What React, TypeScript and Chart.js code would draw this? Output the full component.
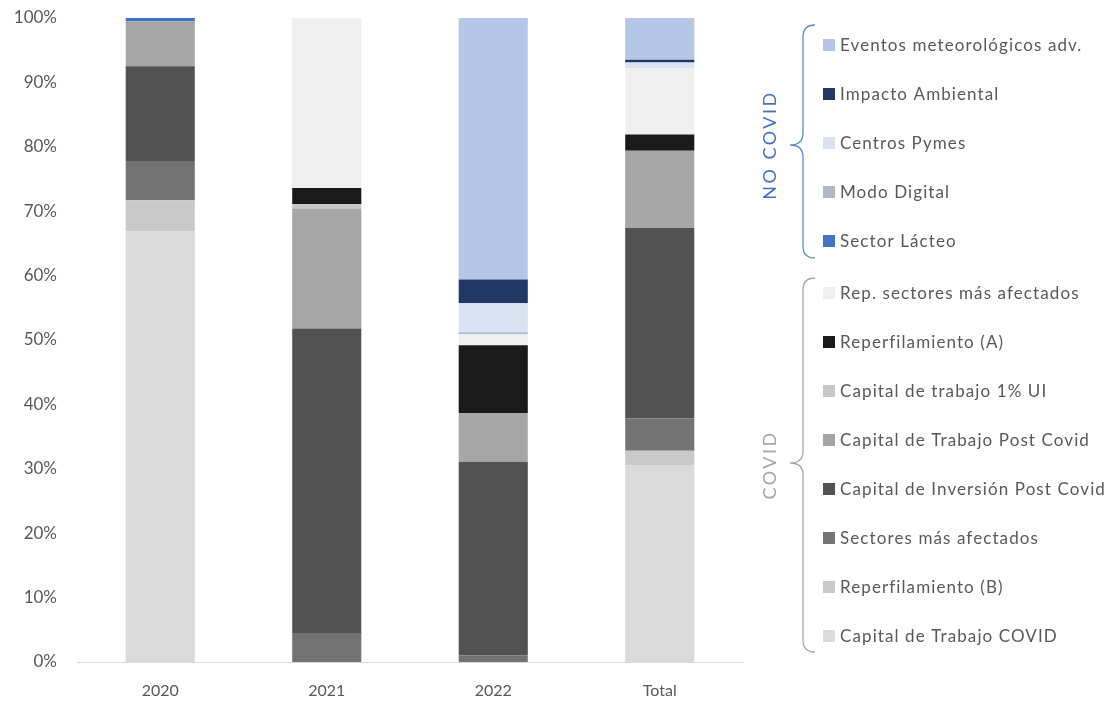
import React, { useEffect, useRef } from "react";
import { Chart, registerables } from "chart.js";

Chart.register(...registerables);

const categories = ["2020", "2021", "2022", "Total"];

// Series, stacked bottom to top (values in % of each bar)
const capitalTrabajoCovid = [66.9, 0, 0, 30.6];
const reperfilamientoB = [4.8, 0, 0, 2.2];
const sectoresMasAfectados = [6.1, 4.5, 1.0, 5.0];
const capitalInversionPost = [14.7, 47.3, 30.1, 29.6];
const capitalTrabajoPost = [7.0, 18.6, 7.55, 12.0];
const capitalTrabajo1UI = [0, 0.7, 0, 0];
const reperfilamientoA = [0, 2.5, 10.55, 2.5];
const repSectores = [0, 26.4, 1.7, 10.3];
const sectorLacteo = [0.5, 0, 0, 0];
const modoDigital = [0, 0, 0.3, 0];
const centrosPymes = [0, 0, 4.5, 0.9];
const impactoAmbiental = [0, 0, 3.7, 0.4];
const eventosMeteo = [0, 0, 40.6, 6.5];

const covidNames = [
  "Capital de Trabajo COVID",
  "Reperfilamiento (B)",
  "Sectores más afectados",
  "Capital de Inversión Post Covid",
  "Capital de Trabajo Post Covid",
  "Capital de trabajo 1% UI",
  "Reperfilamiento (A)",
  "Rep. sectores más afectados",
];
const noCovidNames = [
  "Sector Lácteo",
  "Modo Digital",
  "Centros Pymes",
  "Impacto Ambiental",
  "Eventos meteorológicos adv.",
];
const groupLabels = ["NO COVID", "COVID"];

const seriesValues = [
  capitalTrabajoCovid,
  reperfilamientoB,
  sectoresMasAfectados,
  capitalInversionPost,
  capitalTrabajoPost,
  capitalTrabajo1UI,
  reperfilamientoA,
  repSectores,
  sectorLacteo,
  modoDigital,
  centrosPymes,
  impactoAmbiental,
  eventosMeteo,
];
const seriesNames = [...covidNames, ...noCovidNames];
const seriesColors = [
  "#dadada",
  "#c9c9c9",
  "#737373",
  "#525252",
  "#a6a6a6",
  "#c8c8c8",
  "#1a1a1a",
  "#efefef",
  "#4472c4",
  "#adb9ca",
  "#dae3f3",
  "#1f3864",
  "#b4c7e7",
];

const FONT = "Lato, 'Open Sans', sans-serif";
const TEXT = "#595959";

function drawBrace(ctx: CanvasRenderingContext2D, x: number, top: number, bottom: number, tip: number, color: string) {
  const r = 12;
  const xl = x - 13;
  ctx.save();
  ctx.strokeStyle = color;
  ctx.lineWidth = 1.3;
  ctx.beginPath();
  ctx.moveTo(x + r, top);
  ctx.quadraticCurveTo(x, top, x, top + r);
  ctx.lineTo(x, tip - r);
  ctx.quadraticCurveTo(x, tip, xl, tip);
  ctx.quadraticCurveTo(x, tip, x, tip + r);
  ctx.lineTo(x, bottom - r);
  ctx.quadraticCurveTo(x, bottom, x + r, bottom);
  ctx.stroke();
  ctx.restore();
}

const legendPlugin = {
  id: "groupedLegend",
  afterDraw(chart: any) {
    const ctx: any = chart.ctx;
    const ds = chart.data.datasets;
    const n = ds.length;
    const order: number[] = [];
    for (let i = n - 1; i >= 0; i--) order.push(i);
    const noCovidCount = noCovidNames.length;
    ctx.save();
    ctx.font = `17px ${FONT}`;
    ctx.letterSpacing = "1.1px";
    ctx.textBaseline = "middle";
    ctx.textAlign = "left";
    order.forEach((dsIndex, k) => {
      const y = k < noCovidCount ? 45 + k * 49 : 293 + (k - noCovidCount) * 49;
      ctx.fillStyle = ds[dsIndex].backgroundColor;
      ctx.fillRect(823, y - 6, 12, 12);
      ctx.fillStyle = TEXT;
      ctx.fillText(ds[dsIndex].label, 840, y + 1);
    });
    drawBrace(ctx, 803, 25, 258, 145, "#5b8bd0");
    drawBrace(ctx, 803, 278, 652, 463, "#a6a6a6");
    ctx.font = `18px ${FONT}`;
    ctx.letterSpacing = "2.5px";
    ctx.textAlign = "center";
    ctx.save();
    ctx.translate(770, 145);
    ctx.rotate(-Math.PI / 2);
    ctx.fillStyle = "#4472c4";
    ctx.fillText(groupLabels[0], 0, 0);
    ctx.restore();
    ctx.save();
    ctx.translate(770, 465);
    ctx.rotate(-Math.PI / 2);
    ctx.fillStyle = "#a6a6a6";
    ctx.fillText(groupLabels[1], 0, 0);
    ctx.restore();
    ctx.restore();
  },
};

export default function App() {
  const ref = useRef<HTMLCanvasElement | null>(null);
  useEffect(() => {
    if (!ref.current) return;
    const chart = new Chart(ref.current, {
      type: "bar",
      data: {
        labels: categories,
        datasets: seriesValues.map((vals, i) => ({
          label: seriesNames[i],
          data: vals,
          backgroundColor: seriesColors[i],
          borderWidth: 0,
          categoryPercentage: 1,
          barPercentage: 0.415,
        })),
      },
      options: {
        responsive: false,
        animation: false,
        layout: { padding: { left: 0, right: 373, top: 18, bottom: 0 } },
        plugins: {
          legend: { display: false },
          tooltip: { enabled: false },
        },
        scales: {
          x: {
            stacked: true,
            grid: { display: false, drawTicks: false },
            border: { display: true, color: "#d9d9d9", width: 1 },
            ticks: { color: TEXT, font: { family: FONT, size: 16 }, padding: 19 },
            afterFit: (s: any) => {
              s.height = 39;
              s.paddingLeft = 0;
              s.paddingRight = 0;
            },
          },
          y: {
            stacked: true,
            min: 0,
            max: 100,
            grid: { display: false, drawTicks: false },
            border: { display: false },
            ticks: {
              stepSize: 10,
              color: TEXT,
              font: { family: FONT, size: 17 },
              padding: 20,
              callback: (v: any) => `${v}%`,
            },
            afterFit: (s: any) => {
              s.width = 77;
              s.paddingTop = 0;
              s.paddingBottom = 0;
            },
          },
        },
      },
      plugins: [legendPlugin],
    });
    return () => chart.destroy();
  }, []);
  return (
    <div style={{ position: "fixed", left: 0, top: 0, width: 1116, height: 701, background: "#fff" }}>
      <canvas ref={ref} width={1116} height={701} style={{ display: "block" }} />
    </div>
  );
}
